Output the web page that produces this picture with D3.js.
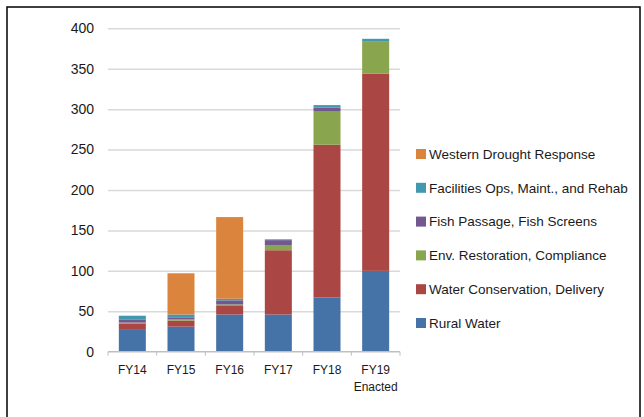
<!DOCTYPE html>
<html>
<head>
<meta charset="utf-8">
<script src="https://cdn.jsdelivr.net/npm/d3@7"></script>
<style>
  body { margin: 0; background: #fff; }
  text { font-family: "Liberation Sans", Arial, sans-serif; fill: #1a1a1a; }
  .grid line { stroke: #d9d9d9; stroke-width: 1.5; }
</style>
</head>
<body>
<div class="chart"></div>
<script>
// categories (second line of label after "|")
var years = ["FY14", "FY15", "FY16", "FY17", "FY18", "FY19|Enacted"];

// series, bottom of stack first
var seriesNames = [
  "Rural Water",
  "Water Conservation, Delivery",
  "Env. Restoration, Compliance",
  "Fish Passage, Fish Screens",
  "Facilities Ops, Maint., and Rehab",
  "Western Drought Response"
];
var seriesColors = ["#4572a7", "#aa4643", "#89a54e", "#71588f", "#4198af", "#db843d"];

var ruralWater = [27, 31, 46, 46, 67, 100];
var waterConservation = [8, 7.5, 10.5, 79.5, 189, 244];
var envRestoration = [1, 1.5, 2, 6.5, 41, 39];
var fishPassage = [4, 2.5, 5, 6, 5, 0.5];
var facilities = [4.5, 3.5, 2, 1, 3, 3.5];
var droughtResponse = [0, 51, 101, 0, 0, 0];

var yTicks = [0, 50, 100, 150, 200, 250, 300, 350, 400];

var width = 644, height = 417;
var plot = { left: 108, right: 400, top: 28.3, bottom: 351.7 };

var svg = d3.select(".chart").append("svg")
  .attr("width", width)
  .attr("height", height);

// outer frame
svg.append("rect")
  .attr("x", 7).attr("y", 7)
  .attr("width", 633).attr("height", 430)
  .attr("fill", "none")
  .attr("stroke", "#000")
  .attr("stroke-width", 1.5);

var xScale = d3.scaleBand()
  .domain(years)
  .range([plot.left, plot.right])
  .paddingInner(0.445)
  .paddingOuter(0.2225);

var yScale = d3.scaleLinear()
  .domain([0, 400])
  .range([plot.bottom, plot.top]);

// gridlines
svg.append("g")
  .attr("class", "grid")
  .attr("transform", "translate(" + plot.left + ",0)")
  .call(d3.axisLeft(yScale).tickValues(yTicks.slice(1)).tickSize(-(plot.right - plot.left)).tickFormat(""))
  .call(function (g) { g.select(".domain").remove(); });

// y labels
svg.append("g")
  .selectAll("text")
  .data(yTicks)
  .enter().append("text")
  .attr("x", 94)
  .attr("y", function (d) { return yScale(d); })
  .attr("dy", "0.35em")
  .attr("text-anchor", "end")
  .attr("font-size", "14px")
  .text(function (d) { return d; });

// stacked data
var table = years.map(function (y, i) {
  var row = { year: y };
  row[seriesNames[0]] = ruralWater[i];
  row[seriesNames[1]] = waterConservation[i];
  row[seriesNames[2]] = envRestoration[i];
  row[seriesNames[3]] = fishPassage[i];
  row[seriesNames[4]] = facilities[i];
  row[seriesNames[5]] = droughtResponse[i];
  return row;
});

var stacked = d3.stack().keys(seriesNames)(table);

svg.append("g")
  .selectAll("g")
  .data(stacked)
  .enter().append("g")
  .attr("fill", function (d, i) { return seriesColors[i]; })
  .selectAll("rect")
  .data(function (d) { return d; })
  .enter().append("rect")
  .attr("x", function (d) { return xScale(d.data.year); })
  .attr("y", function (d) { return yScale(d[1]); })
  .attr("width", xScale.bandwidth())
  .attr("height", function (d) { return yScale(d[0]) - yScale(d[1]); });

// x axis line and ticks at band edges
var step = xScale.step();
var edges = d3.range(years.length + 1).map(function (i) { return plot.left + i * step; });

svg.append("line")
  .attr("x1", plot.left).attr("x2", plot.right)
  .attr("y1", yScale(0)).attr("y2", yScale(0))
  .attr("stroke", "#bfbfbf").attr("stroke-width", 1.5);

svg.append("g")
  .selectAll("line")
  .data(edges)
  .enter().append("line")
  .attr("x1", function (d) { return d; }).attr("x2", function (d) { return d; })
  .attr("y1", yScale(0)).attr("y2", yScale(0) + 4)
  .attr("stroke", "#bfbfbf").attr("stroke-width", 1);

// x labels
var xl = svg.append("g")
  .selectAll("text")
  .data(years)
  .enter().append("text")
  .attr("x", function (d) { return xScale(d) + xScale.bandwidth() / 2; })
  .attr("y", 374)
  .attr("text-anchor", "middle")
  .attr("font-size", "12px");

xl.each(function (d) {
  var parts = d.split("|");
  var t = d3.select(this);
  parts.forEach(function (p, i) {
    t.append("tspan")
      .attr("x", t.attr("x"))
      .attr("dy", i === 0 ? 0 : 17)
      .text(p);
  });
});

// legend, top series first
var legendOrder = seriesNames.slice().reverse();
var legend = svg.append("g")
  .selectAll("g")
  .data(legendOrder)
  .enter().append("g")
  .attr("transform", function (d, i) { return "translate(416," + (154 + i * 33.8) + ")"; });

legend.append("rect")
  .attr("x", 0).attr("y", -5)
  .attr("width", 10).attr("height", 10)
  .attr("fill", function (d) { return seriesColors[seriesNames.indexOf(d)]; });

legend.append("text")
  .attr("x", 13)
  .attr("y", 0)
  .attr("dy", "0.35em")
  .attr("font-size", "13.5px")
  .text(function (d) { return d; });
</script>
</body>
</html>
